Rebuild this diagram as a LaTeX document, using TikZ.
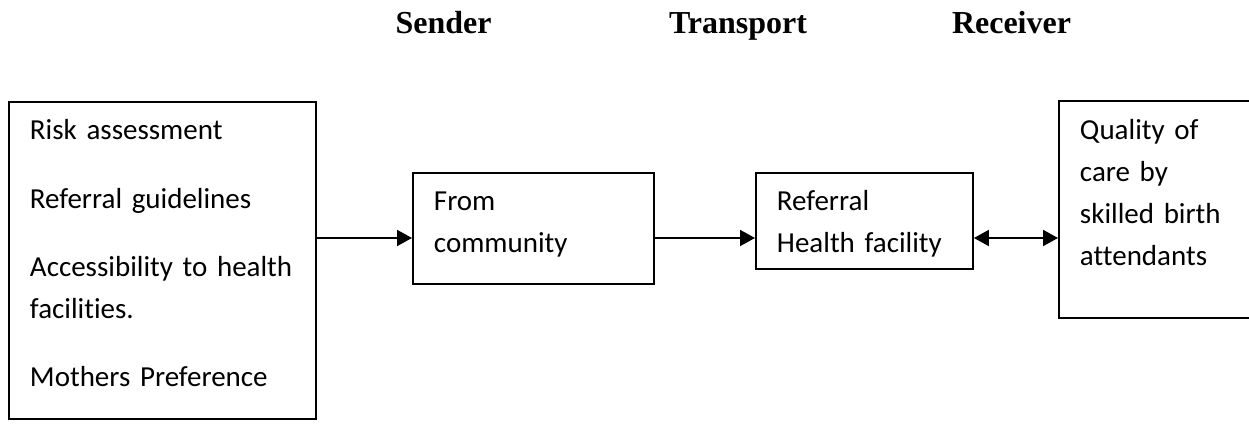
\documentclass[tikz,border=0pt]{standalone}
\usepackage{fontspec}
\usepackage{tikz}
\usetikzlibrary{arrows.meta}
\newfontfamily\bodyfont[Ligatures=NoCommon]{Carlito}
\newfontfamily\headfont{Liberation Serif}

\begin{document}
\begin{tikzpicture}[
    box/.style={
        rectangle,
        draw,
        line width=1.1pt,
        anchor=north west,
        align=left,
        inner xsep=0.42cm,
        inner ysep=0pt,
        font=\bodyfont\fontsize{16.5pt}{23.8pt}\selectfont
    },
    pad/.style 2 args={
        execute at begin node={\rule{0pt}{#1}},
        execute at end node={\rule[-#2]{0pt}{0pt}}
    },
    head/.style={
        anchor=base,
        font=\headfont\bfseries\fontsize{18.2pt}{22pt}\selectfont
    },
    arrow/.style={
        -{Triangle[length=0.3cm,width=0.32cm]},
        line width=1.1pt
    },
    twoway/.style={
        {Triangle[length=0.3cm,width=0.32cm]}-{Triangle[length=0.3cm,width=0.32cm]},
        line width=1.1pt
    }
]

\clip (0,0) rectangle (24.98,8.46);

% column titles
\node[head] (sender) at (8.87,7.78) {Sender};
\node[head] (transport) at (14.76,7.78) {Transport};
\node[head] (receiver) at (20.23,7.78) {Receiver};

\node[box, text width=5.30cm, pad={0.76cm}{0.66cm}] (factors) at (0.16,6.44)
{Risk assessment\\[15pt]
Referral guidelines\\[15pt]
Accessibility to health\\
facilities.\\[15pt]
Mothers Preference};

\node[box, text width=3.98cm, pad={0.76cm}{0.62cm}] (community) at (8.24,5.02)
{From\\
community};

\node[box, text width=3.50cm, pad={0.76cm}{0.32cm}] (facility) at (15.10,5.02)
{Referral\\
Health facility};

\node[box, text width=3.36cm, pad={0.78cm}{1.06cm}] (care) at (21.16,6.46)
{Quality of\\
care by\\
skilled birth\\
attendants};

\coordinate (mid) at (0,3.70);

\draw[arrow] (factors.east |- mid) -- (community.west |- mid);
\draw[arrow] (community.east |- mid) -- (facility.west |- mid);
\draw[twoway] (facility.east |- mid) -- (care.west |- mid);

\end{tikzpicture}
\end{document}
